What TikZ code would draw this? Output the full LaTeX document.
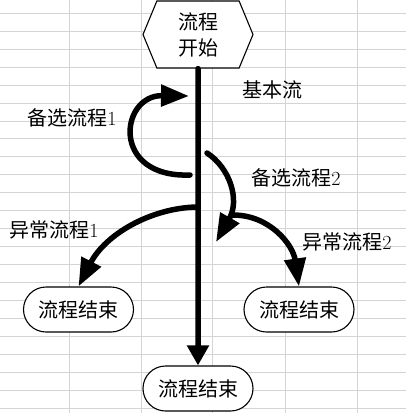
\documentclass[tikz,border=0pt]{standalone}
\usepackage{fontspec}
\newfontfamily\cjk{Noto Sans CJK SC}
\usetikzlibrary{arrows.meta,shapes.symbols,shapes.misc}
\definecolor{cellline}{RGB}{212,212,212}
\begin{document}
\begin{tikzpicture}[x=1pt,y=-1pt,
  cell/.style={cellline,line width=1pt},
  box/.style={draw,fill=white,line width=1.1pt,inner sep=0pt,font=\cjk\fontsize{20}{26}\selectfont},
  endbox/.style={box,rounded rectangle,minimum width=110pt,minimum height=45pt},
  lbl/.style={inner sep=0pt,font=\cjk\fontsize{20}{26}\selectfont},
  flow/.style={line width=5.5pt,line cap=round,-{Triangle[length=28pt,width=21pt]}}]
 \useasboundingbox (0,0) rectangle (406,413);
 \foreach \r in {0,...,22} \draw[cell] (0,{13.3+17.95*\r}) -- (406,{13.3+17.95*\r});
 \foreach \c in {69,141,212,285,357} \draw[cell] (\c,0) -- (\c,413);
 \node[box,signal,signal to=east and west,signal pointer angle=135,minimum width=110pt,minimum height=67pt,align=center] (start) at (198,34.5) {流程\\开始};
 \node[endbox] (end0) at (198,388.5) {流程结束};
 \node[endbox] (end1) at (78.5,309.5) {流程结束};
 \node[endbox] (end2) at (299,309.5) {流程结束};
 \node[lbl] (basic) at (272,90) {基本流};
 \node[lbl] (alt1) at (72,118) {备选流程{\rmfamily 1}};
 \node[lbl] (alt2) at (296,178) {备选流程{\rmfamily 2}};
 \node[lbl] (exc1) at (54,230) {异常流程{\rmfamily 1}};
 \node[lbl] (exc2) at (347,242) {异常流程{\rmfamily 2}};
 \draw[flow,-{Triangle[length=20pt,width=21pt]}] (start) -- (end0);
 \coordinate (a1s) at (190,175);
 \coordinate (a1e) at (189,96);
 \coordinate (a2s) at (207,153);
 \coordinate (a2e) at (216,242);
 \coordinate (e1s) at (197,207);
 \coordinate (e2s) at (233,215);
 \draw[flow] (a1s) .. controls (110,178) and (120,95) .. (a1e);
 \draw[flow] (a2s) .. controls (230,168) and (240,200) .. (a2e);
 \draw[flow] (e1s) .. controls (150,208) and (105,235) .. (end1.north);
 \draw[flow] (e2s) .. controls (270,215) and (293,245) .. (end2.north);
\end{tikzpicture}
\end{document}
